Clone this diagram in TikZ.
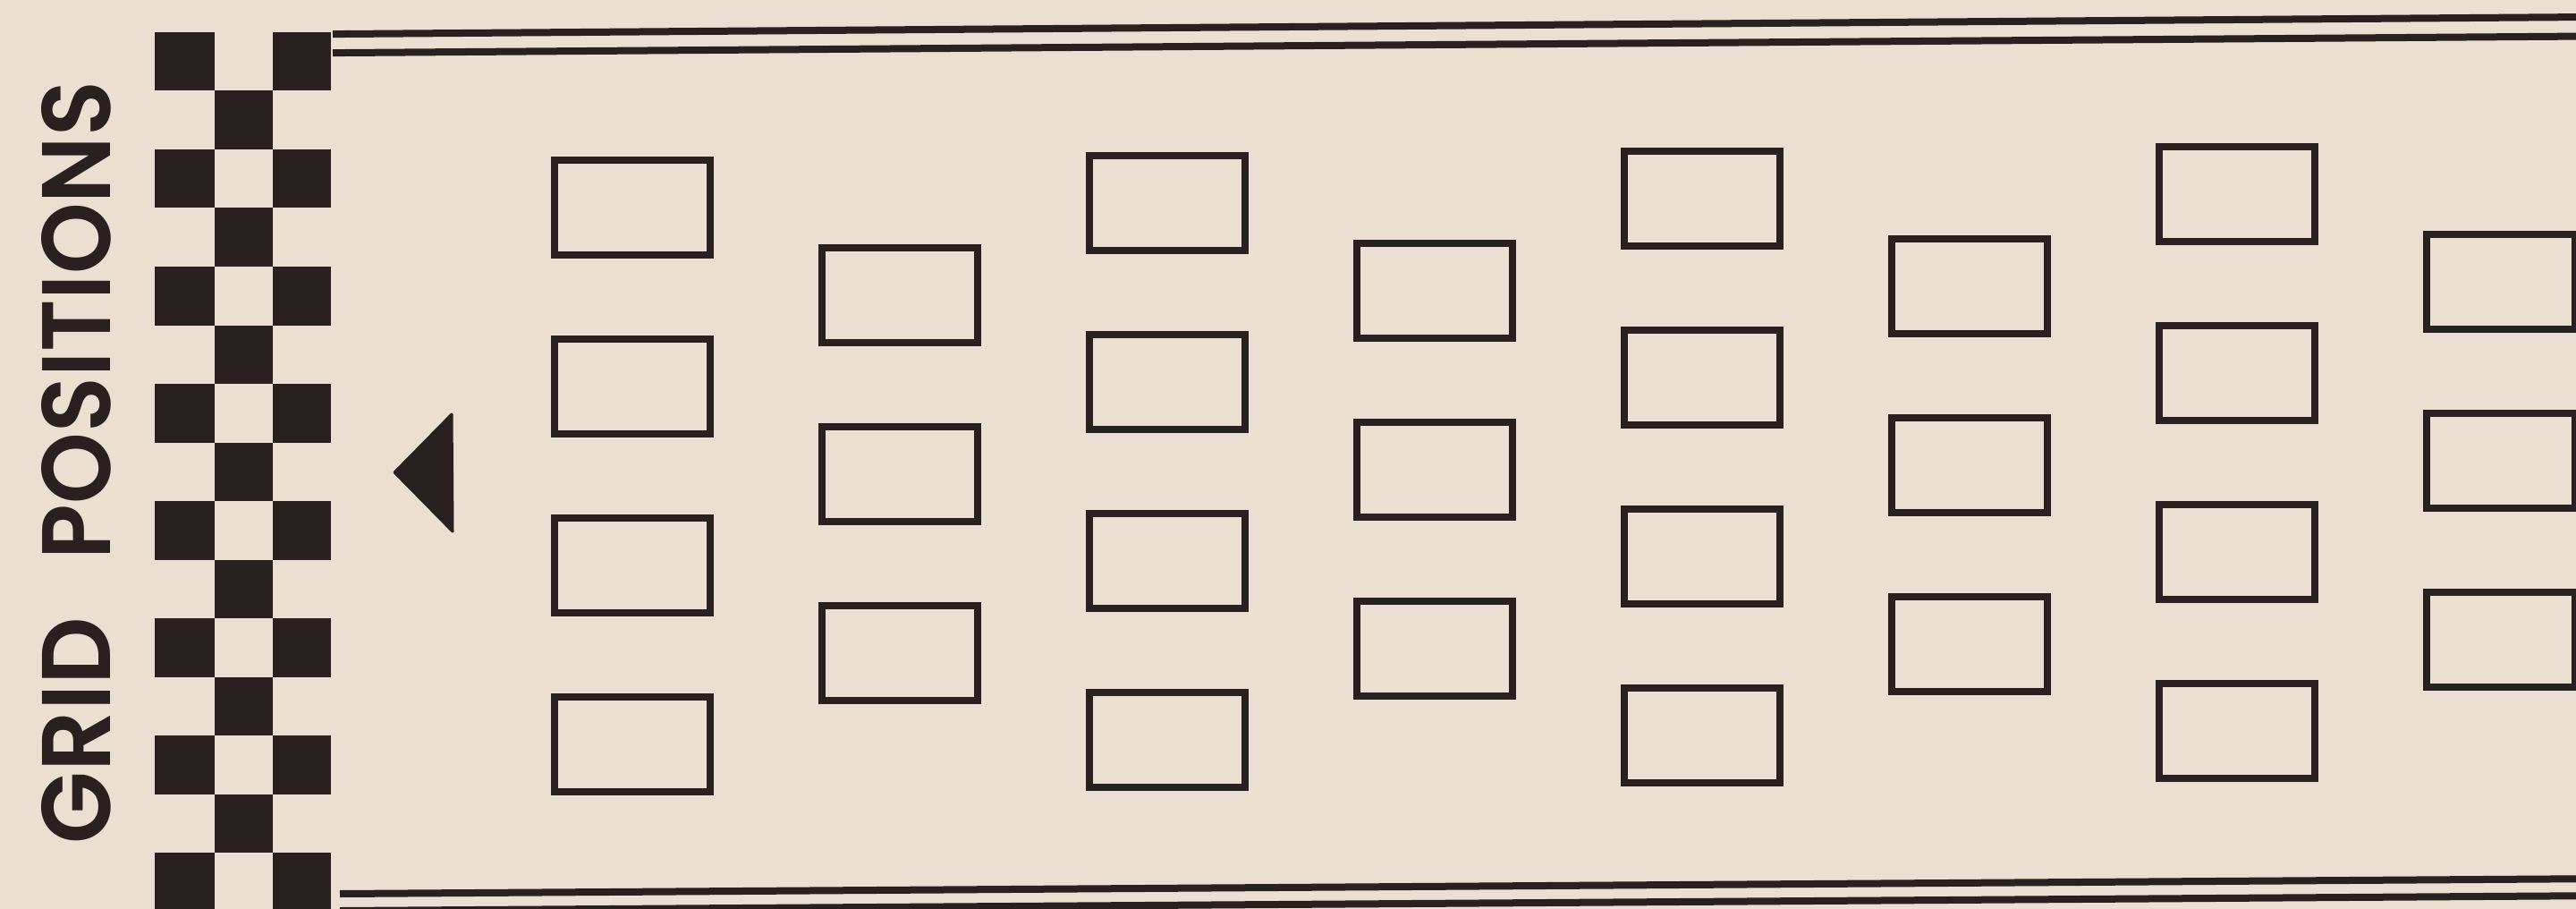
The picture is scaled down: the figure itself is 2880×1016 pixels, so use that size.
\documentclass[tikz,border=0pt]{standalone}
\usepackage{fontspec}
\usepackage{graphicx}
\newfontfamily\gridfont{Poppins SemiBold}
\definecolor{paper}{RGB}{235,223,210}
\definecolor{ink}{RGB}{40,33,31}
\tikzset{
  slot/.style={draw=ink, line width=8pt, rectangle, inner sep=0pt,
    minimum width=174pt, minimum height=106pt, anchor=north west},
  slotnarrow/.style={slot, minimum width=166pt},
  rule/.style={draw=ink, line width=8pt},
  flagsq/.style={fill=ink},
  title/.style={rotate=90, inner sep=0pt, text=ink}
}
\begin{document}
\begin{tikzpicture}[x=1pt,y=-1pt]
\fill[paper] (0,0) rectangle (2880,1016);
\useasboundingbox (0,0) rectangle (2880,1016);
\begin{scope}
\clip (0,0) rectangle (2880,1016);
% chequered flag
\foreach \r in {0,2,...,14} {
  \fill[flagsq] (173,{36+65.5*\r}) rectangle (240,{36+65.5*(\r+1)});
  \fill[flagsq] (305,{36+65.5*\r}) rectangle (370,{36+65.5*(\r+1)});
}
\foreach \r in {1,3,...,13} {
  \fill[flagsq] (240,{36+65.5*\r}) rectangle (305,{36+65.5*(\r+1)});
}
% rules
\draw[rule] (372,38.1) -- (2880,19.1);
\draw[rule] (372,59.1) -- (2880,40.6);
\draw[rule] (380,999) -- (2880,982.3);
\draw[rule] (380,1018) -- (2880,1001.3);
% grid boxes
\foreach \c in {0,...,7} {
  \pgfmathsetmacro{\bx}{612+299*\c}
  \pgfmathsetmacro{\tilt}{0.0082*299*\c}
  \pgfmathtruncatemacro{\odd}{mod(\c,2)}
  \ifnum\odd=0
    \foreach \k in {0,1,2,3} {
      \node[slot] (g\c-\k) at ({\bx+4},{171+200*\k-\tilt+4}) {};
    }
  \else
    \ifnum\c=7
      \foreach \k in {0,1,2} {
        \node[slotnarrow] (g\c-\k) at ({\bx+4},{271+200*\k-\tilt+4}) {};
      }
    \else
      \foreach \k in {0,1,2} {
        \node[slot] (g\c-\k) at ({\bx+4},{271+200*\k-\tilt+4}) {};
      }
    \fi
  \fi
}
\end{scope}
% start arrow
\fill[ink, draw=ink, line width=3pt, line join=round] (441,528) -- (505,463) -- (506,594) -- cycle;
% title
\node[title] (grid) at (85.5,816.5) {\resizebox{253pt}{77pt}{\gridfont GRID}};
\node[title] (positions) at (85.5,358) {\resizebox{534pt}{77pt}{\gridfont POSITIONS}};
\end{tikzpicture}
\end{document}
